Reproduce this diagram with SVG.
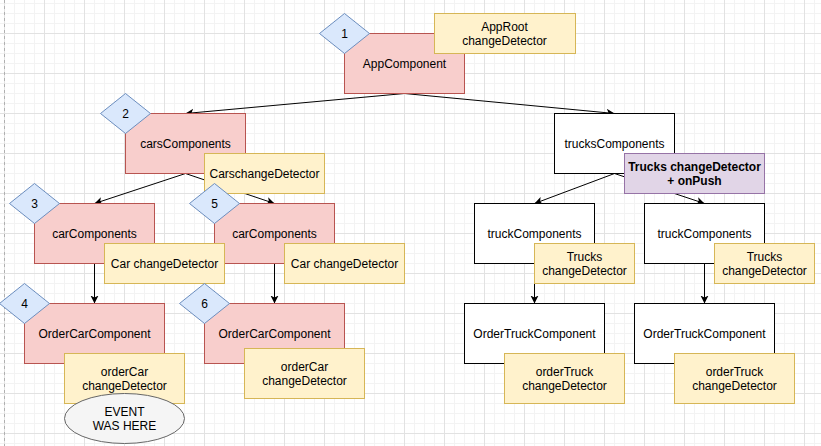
<svg xmlns="http://www.w3.org/2000/svg" width="821" height="446" viewBox="0 0 821 446">
<defs>
<pattern id="grid" patternUnits="userSpaceOnUse" x="4" y="-7" width="40" height="40">
<rect width="40" height="40" fill="#ffffff"/>
<rect x="10" y="0" width="1" height="40" fill="#f3f3f3"/>
<rect x="20" y="0" width="1" height="40" fill="#f3f3f3"/>
<rect x="30" y="0" width="1" height="40" fill="#f3f3f3"/>
<rect x="0" y="10" width="40" height="1" fill="#f3f3f3"/>
<rect x="0" y="20" width="40" height="1" fill="#f3f3f3"/>
<rect x="0" y="30" width="40" height="1" fill="#f3f3f3"/>
<rect x="0" y="0" width="1" height="40" fill="#e2e2e2"/>
<rect x="0" y="0" width="40" height="1" fill="#e2e2e2"/>
</pattern>
<marker id="arr" markerUnits="userSpaceOnUse" markerWidth="10" markerHeight="10" refX="8" refY="4" orient="auto">
<path d="M0,0 L8,4 L0,8 L2,4 z" fill="#000" stroke="none"/>
</marker>
<style>
text{font-family:"Liberation Sans",Helvetica,Arial,sans-serif;font-size:12px;text-anchor:middle;fill:#000}
.red{fill:#f8cecc;stroke:#b85450;stroke-width:1}
.cd{fill:#fff2cc;stroke:#d6b656;stroke-width:1}
.dia{fill:#dae8fc;stroke:#6c8ebf;stroke-width:1}
.plain{fill:#ffffff;stroke:#000000;stroke-width:1}
.purple{fill:#e1d5e7;stroke:#9673a6;stroke-width:1}
.ev{fill:#f5f5f5;stroke:#666666;stroke-width:1}
.edge{stroke:#000;stroke-width:1;fill:none;marker-end:url(#arr)}
.b{font-weight:bold}
</style>
</defs>
<rect x="0" y="0" width="821" height="446" fill="url(#grid)"/>
<line x1="4.5" y1="0" x2="4.5" y2="446" stroke="#b0b0b0" stroke-dasharray="3,3"/>
<g transform="translate(0.5,0.5)">
<g id="connectors">
<line class="edge" x1="404" y1="93" x2="185" y2="113"/>
<line class="edge" x1="404" y1="93" x2="614" y2="113"/>
<line class="edge" x1="185" y1="173" x2="94" y2="203"/>
<line class="edge" x1="185" y1="173" x2="274" y2="203"/>
<line class="edge" x1="94" y1="263" x2="94" y2="303"/>
<line class="edge" x1="274" y1="263" x2="274" y2="303"/>
<line class="edge" x1="614" y1="173" x2="534" y2="203"/>
<line class="edge" x1="614" y1="173" x2="704" y2="203"/>
<line class="edge" x1="534" y1="263" x2="534" y2="303"/>
<line class="edge" x1="704" y1="263" x2="704" y2="303"/>
</g>
<g id="appComponent"><rect class="red" x="344" y="33" width="120" height="60"/><text x="404" y="67">AppComponent</text></g>
<g id="carsComponents"><rect class="red" x="125" y="113" width="120" height="60"/><text x="185" y="147">carsComponents</text></g>
<g id="carComponents1"><rect class="red" x="34" y="203" width="120" height="60"/><text x="94" y="237">carComponents</text></g>
<g id="carComponents2"><rect class="red" x="214" y="203" width="120" height="60"/><text x="274" y="237">carComponents</text></g>
<g id="orderCar1"><rect class="red" x="24" y="303" width="140" height="60"/><text x="94" y="337">OrderCarComponent</text></g>
<g id="orderCar2"><rect class="red" x="204" y="303" width="140" height="60"/><text x="274" y="337">OrderCarComponent</text></g>
<g id="trucksComponents"><rect class="plain" x="554" y="113" width="120" height="60"/><text x="614" y="147">trucksComponents</text></g>
<g id="truckComponents1"><rect class="plain" x="474" y="203" width="120" height="60"/><text x="534" y="237">truckComponents</text></g>
<g id="truckComponents2"><rect class="plain" x="644" y="203" width="120" height="60"/><text x="704" y="237">truckComponents</text></g>
<g id="orderTruck1"><rect class="plain" x="464" y="303" width="140" height="60"/><text x="534" y="337">OrderTruckComponent</text></g>
<g id="orderTruck2"><rect class="plain" x="634" y="303" width="140" height="60"/><text x="704" y="337">OrderTruckComponent</text></g>
<g id="appRootCD"><rect class="cd" x="434" y="13" width="141" height="40"/><text x="504" y="30">AppRoot</text><text x="504" y="44">changeDetector</text></g>
<g id="carsCD"><rect class="cd" x="204" y="153" width="120" height="40"/><text x="264" y="177">CarschangeDetector</text></g>
<g id="carCD1"><rect class="cd" x="104" y="243" width="120" height="40"/><text x="164" y="267">Car changeDetector</text></g>
<g id="carCD2"><rect class="cd" x="284" y="243" width="120" height="40"/><text x="344" y="267">Car changeDetector</text></g>
<g id="orderCarCD1"><rect class="cd" x="64" y="353" width="120" height="50"/><text x="124" y="375">orderCar</text><text x="124" y="389">changeDetector</text></g>
<g id="orderCarCD2"><rect class="cd" x="244" y="348" width="120" height="50"/><text x="304" y="370">orderCar</text><text x="304" y="384">changeDetector</text></g>
<g id="event"><ellipse class="ev" cx="124" cy="418" rx="60" ry="25"/><text x="124" y="415">EVENT</text><text x="124" y="429">WAS HERE</text></g>
<g id="trucksCD"><rect class="purple" x="624" y="153" width="140" height="40"/><text class="b" x="694" y="170">Trucks changeDetector</text><text class="b" x="694" y="184">+ onPush</text></g>
<g id="truckCD1"><rect class="cd" x="534" y="243" width="100" height="40"/><text x="584" y="260">Trucks</text><text x="584" y="274">changeDetector</text></g>
<g id="truckCD2"><rect class="cd" x="714" y="243" width="100" height="40"/><text x="764" y="260">Trucks</text><text x="764" y="274">changeDetector</text></g>
<g id="orderTruckCD1"><rect class="cd" x="504" y="353" width="120" height="50"/><text x="564" y="375">orderTruck</text><text x="564" y="389">changeDetector</text></g>
<g id="orderTruckCD2"><rect class="cd" x="674" y="353" width="120" height="50"/><text x="734" y="375">orderTruck</text><text x="734" y="389">changeDetector</text></g>
<g id="step1"><polygon class="dia" points="319,33 344,13 369,33 344,53"/><text x="344" y="37">1</text></g>
<g id="step2"><polygon class="dia" points="100,113 125,93 150,113 125,133"/><text x="125" y="117">2</text></g>
<g id="step3"><polygon class="dia" points="9,203 34,183 59,203 34,223"/><text x="34" y="207">3</text></g>
<g id="step4"><polygon class="dia" points="-1,303 24,283 49,303 24,323"/><text x="24" y="307">4</text></g>
<g id="step5"><polygon class="dia" points="189,203 214,183 239,203 214,223"/><text x="214" y="207">5</text></g>
<g id="step6"><polygon class="dia" points="179,303 204,283 229,303 204,323"/><text x="204" y="307">6</text></g>
</g>
</svg>
